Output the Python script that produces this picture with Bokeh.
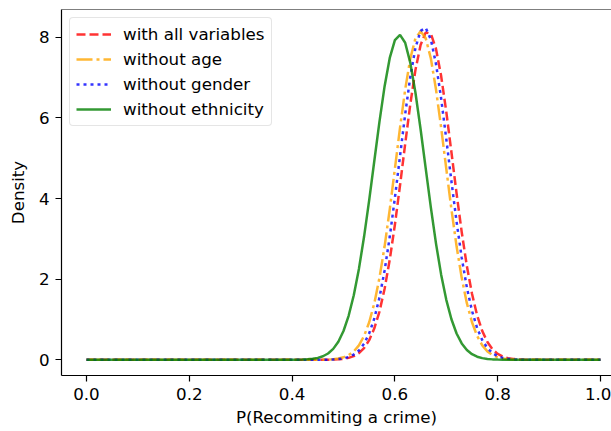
from bokeh.plotting import figure
from bokeh.models import Range1d, FixedTicker, Span, Legend, LegendItem
from bokeh.embed import file_html
from bokeh.resources import INLINE

# ---- data ----
x_vals = [0.0,
          0.40, 0.41, 0.42, 0.43, 0.44, 0.45, 0.46, 0.47, 0.48, 0.49,
          0.50, 0.51, 0.52, 0.53, 0.54, 0.55, 0.56, 0.57, 0.58, 0.59,
          0.60, 0.61, 0.62, 0.63, 0.64, 0.65, 0.66, 0.67, 0.68, 0.69,
          0.70, 0.71, 0.72, 0.73, 0.74, 0.75, 0.76, 0.77, 0.78, 0.79,
          0.80, 0.81, 0.82, 0.83, 0.84, 0.85, 0.86,
          1.0]

dens_all = [0.0,
            0.0, 0.0, 0.0, 0.0, 0.0, 0.0, 0.001, 0.002, 0.005, 0.011,
            0.024, 0.047, 0.091, 0.165, 0.290, 0.486, 0.780, 1.197, 1.763, 2.484,
            3.350, 4.329, 5.355, 6.342, 7.192, 7.811, 8.122, 8.087, 7.710, 7.038,
            6.152, 5.149, 4.126, 3.167, 2.327, 1.637, 1.103, 0.712, 0.440, 0.260,
            0.147, 0.080, 0.041, 0.021, 0.010, 0.004, 0.002,
            0.0]

dens_no_age = [0.0,
               0.0, 0.0, 0.0, 0.0, 0.0, 0.001, 0.003, 0.007, 0.015, 0.031,
               0.062, 0.116, 0.208, 0.358, 0.590, 0.931, 1.405, 2.033, 2.815, 3.731,
               4.738, 5.759, 6.704, 7.473, 7.975, 8.150, 7.975, 7.473, 6.704, 5.759,
               4.738, 3.731, 2.815, 2.033, 1.405, 0.931, 0.590, 0.358, 0.208, 0.116,
               0.062, 0.031, 0.015, 0.007, 0.003, 0.001, 0.0,
               0.0]

dens_no_gender = [0.0,
                  0.0, 0.0, 0.0, 0.0, 0.0, 0.0, 0.002, 0.004, 0.008, 0.017,
                  0.035, 0.069, 0.129, 0.231, 0.397, 0.653, 1.025, 1.542, 2.217, 3.051,
                  4.016, 5.057, 6.091, 7.020, 7.739, 8.161, 8.233, 7.946, 7.338, 6.481,
                  5.476, 4.427, 3.424, 2.533, 1.793, 1.214, 0.786, 0.487, 0.289, 0.164,
                  0.089, 0.046, 0.023, 0.011, 0.005, 0.002, 0.001,
                  0.0]

dens_no_eth = [0.0,
               0.001, 0.003, 0.006, 0.012, 0.024, 0.046, 0.087, 0.156, 0.270, 0.448,
               0.714, 1.091, 1.601, 2.254, 3.051, 3.962, 4.938, 5.910, 6.788, 7.488,
               7.928, 8.060, 7.864, 7.366, 6.625, 5.719, 4.741, 3.773, 2.882, 2.112,
               1.487, 1.006, 0.653, 0.406, 0.243, 0.139, 0.077, 0.041, 0.021, 0.010,
               0.005, 0.002, 0.001, 0.0, 0.0, 0.0, 0.0,
               0.0]

series_labels = ["with all variables", "without age", "without gender", "without ethnicity"]

x_ticks = [0.0, 0.2, 0.4, 0.6, 0.8, 1.0]
x_tick_labels = ["0.0", "0.2", "0.4", "0.6", "0.8", "1.0"]
y_ticks = [0, 2, 4, 6, 8]
y_tick_labels = ["0", "2", "4", "6", "8"]

x_label = "P(Recommiting a crime)"
y_label = "Density"

# ---- figure ----
X0, X1 = -0.0486, 1.0214
Y0, Y1 = -0.39, 8.69
FONT = "DejaVu Sans"
FS = "16.7px"

p = figure(width=611, height=431, output_backend="svg", toolbar_location=None,
           x_range=Range1d(X0, X1), y_range=Range1d(Y0, Y1),
           min_border_left=61, min_border_right=0, min_border_top=9, min_border_bottom=56)
p.outline_line_color = None
p.grid.visible = False
p.background_fill_color = "white"
p.border_fill_color = "white"

styles = [
    dict(color="#ff0000", dash="9 4"),
    dict(color="#ffa500", dash="16 4 3 4"),
    dict(color="#0000ff", dash="3 4"),
    dict(color="#008000", dash="solid"),
]
series = [dens_all, dens_no_age, dens_no_gender, dens_no_eth]
renderers = []
for ys, st in zip(series, styles):
    r = p.line(x_vals, ys, line_color=st["color"], line_alpha=0.8, line_width=2.5,
               line_dash=st["dash"])
    renderers.append(r)

# axes
p.xaxis.ticker = FixedTicker(ticks=x_ticks)
p.xaxis.major_label_overrides = {t: l for t, l in zip(x_ticks, x_tick_labels)}
p.yaxis.ticker = FixedTicker(ticks=y_ticks)
p.yaxis.major_label_overrides = {t: l for t, l in zip(y_ticks, y_tick_labels)}
p.xaxis.axis_label = x_label
p.yaxis.axis_label = y_label
for ax in (p.xaxis[0], p.yaxis[0]):
    ax.axis_line_color = "black"
    ax.axis_line_width = 1.2
    ax.major_tick_line_color = "black"
    ax.major_tick_line_width = 1.2
    ax.major_tick_out = 6
    ax.major_tick_in = 0
    ax.minor_tick_out = 0
    ax.minor_tick_in = 0
    ax.major_label_text_font = FONT
    ax.major_label_text_font_size = FS
    ax.major_label_text_color = "black"
    ax.major_label_standoff = 6
    ax.axis_label_text_font = FONT
    ax.axis_label_text_font_size = FS
    ax.axis_label_text_font_style = "normal"
    ax.axis_label_text_color = "black"
p.xaxis.axis_label_standoff = 4
p.yaxis.axis_label_standoff = 8

# top spine
p.add_layout(Span(location=Y1, dimension="width", line_color="black", line_width=1.2))

legend = Legend(items=[LegendItem(label=l, renderers=[r]) for l, r in zip(series_labels, renderers)],
                location="top_left", margin=8, padding=6, spacing=5,
                glyph_width=35, glyph_height=20, label_height=20, label_standoff=12,
                label_text_font=FONT, label_text_font_size=FS, label_text_color="black",
                border_line_color="#cccccc", border_line_width=1, border_radius=4,
                background_fill_color="white", background_fill_alpha=0.8)
p.add_layout(legend)

open("out.html", "w").write(file_html(p, INLINE))
